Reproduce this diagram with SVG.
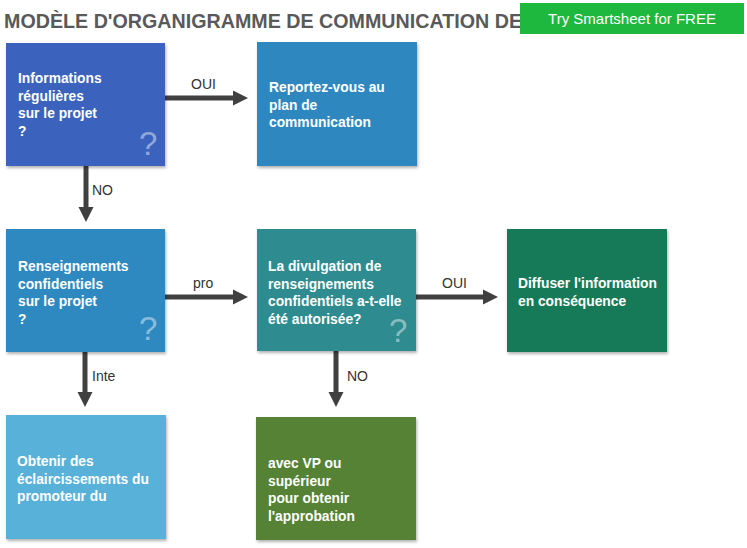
<svg xmlns="http://www.w3.org/2000/svg" width="747" height="548" viewBox="0 0 747 548">
<defs>
<filter id="sh" x="-5%" y="-5%" width="115%" height="115%">
<feDropShadow dx="1" dy="2" stdDeviation="1.5" flood-color="#000" flood-opacity="0.3"/>
</filter>
<marker id="ah" viewBox="0 0 10 10" refX="0" refY="5" markerWidth="3" markerHeight="4.2" orient="auto" markerUnits="strokeWidth">
<path d="M0,0 L10,5 L0,10 z" fill="#404040"/>
</marker>
</defs>
<style>
.box{filter:url(#sh);}
.t{font-family:"Liberation Sans",Arial,sans-serif;font-weight:bold;font-size:13.8px;fill:#ffffff;}
.q{font-family:"Liberation Sans",Arial,sans-serif;font-weight:normal;font-size:33px;fill:#ffffff;fill-opacity:0.45;}
.lbl{font-family:"Liberation Sans",Arial,sans-serif;font-size:14px;fill:#333333;}
.ln{stroke:#404040;stroke-width:5;fill:none;}
</style>
<rect width="747" height="548" fill="#ffffff"/>
<g id="title">
<text x="4" y="28" font-family="Liberation Sans,Arial,sans-serif" font-weight="bold" font-size="21" fill="#595959" textLength="518" lengthAdjust="spacingAndGlyphs">MODÈLE D'ORGANIGRAMME DE COMMUNICATION DE</text>
</g>
<g id="cta">
<rect x="520" y="3" width="224" height="31" fill="#1FB83E"/>
<text x="632" y="24" text-anchor="middle" font-family="Liberation Sans,Arial,sans-serif" font-size="15" fill="#ffffff">Try Smartsheet for FREE</text>
</g>
<g id="connectors">
<line class="ln" x1="165" y1="98" x2="233" y2="98" marker-end="url(#ah)"/>
<text class="lbl" x="191" y="89">OUI</text>
<line class="ln" x1="86" y1="166" x2="86" y2="207" marker-end="url(#ah)"/>
<text class="lbl" x="92" y="195">NO</text>
<line class="ln" x1="165" y1="297" x2="233" y2="297" marker-end="url(#ah)"/>
<text class="lbl" x="193" y="288">pro</text>
<line class="ln" x1="416" y1="297" x2="483" y2="297" marker-end="url(#ah)"/>
<text class="lbl" x="442" y="288">OUI</text>
<line class="ln" x1="85" y1="352" x2="85" y2="392" marker-end="url(#ah)"/>
<text class="lbl" x="92" y="381">Inte</text>
<line class="ln" x1="336" y1="351" x2="336" y2="392" marker-end="url(#ah)"/>
<text class="lbl" x="347" y="381">NO</text>
</g>
<g id="n1">
<rect class="box" x="6" y="43" width="159" height="123" fill="#3A64BD"/>
<text class="t" x="18" y="83">Informations</text>
<text class="t" x="18" y="100.5">régulières</text>
<text class="t" x="18" y="118">sur le projet</text>
<text class="t" x="18" y="135.5">?</text>
<text class="q" x="139" y="155">?</text>
</g>
<g id="n2">
<rect class="box" x="257" y="42" width="160" height="124" fill="#2E87BF"/>
<text class="t" x="269" y="92">Reportez-vous au</text>
<text class="t" x="269" y="109.5">plan de</text>
<text class="t" x="269" y="127">communication</text>
</g>
<g id="n3">
<rect class="box" x="6" y="229" width="159" height="123" fill="#2F89C1"/>
<text class="t" x="18" y="271">Renseignements</text>
<text class="t" x="18" y="288.5">confidentiels</text>
<text class="t" x="18" y="306">sur le projet</text>
<text class="t" x="18" y="323.5">?</text>
<text class="q" x="139" y="340">?</text>
</g>
<g id="n4">
<rect class="box" x="257" y="229" width="159" height="122" fill="#2E8B8F"/>
<text class="t" x="268" y="271">La divulgation de</text>
<text class="t" x="268" y="288.5">renseignements</text>
<text class="t" x="268" y="306">confidentiels a-t-elle</text>
<text class="t" x="268" y="323.5">été autorisée?</text>
<text class="q" x="389" y="342">?</text>
</g>
<g id="n5">
<rect class="box" x="507" y="229" width="160" height="123" fill="#167A58"/>
<text class="t" x="518" y="288">Diffuser l'information</text>
<text class="t" x="518" y="305.5">en conséquence</text>
</g>
<g id="n6">
<rect class="box" x="6" y="415" width="160" height="124" fill="#59B1D8"/>
<text class="t" x="17" y="466">Obtenir des</text>
<text class="t" x="17" y="483.5">éclaircissements du</text>
<text class="t" x="17" y="501">promoteur du</text>
</g>
<g id="n7">
<rect class="box" x="256" y="417" width="160" height="123" fill="#548235"/>
<text class="t" x="268" y="468">avec VP ou</text>
<text class="t" x="268" y="485.5">supérieur</text>
<text class="t" x="268" y="503">pour obtenir</text>
<text class="t" x="268" y="520.5">l'approbation</text>
</g>
</svg>
